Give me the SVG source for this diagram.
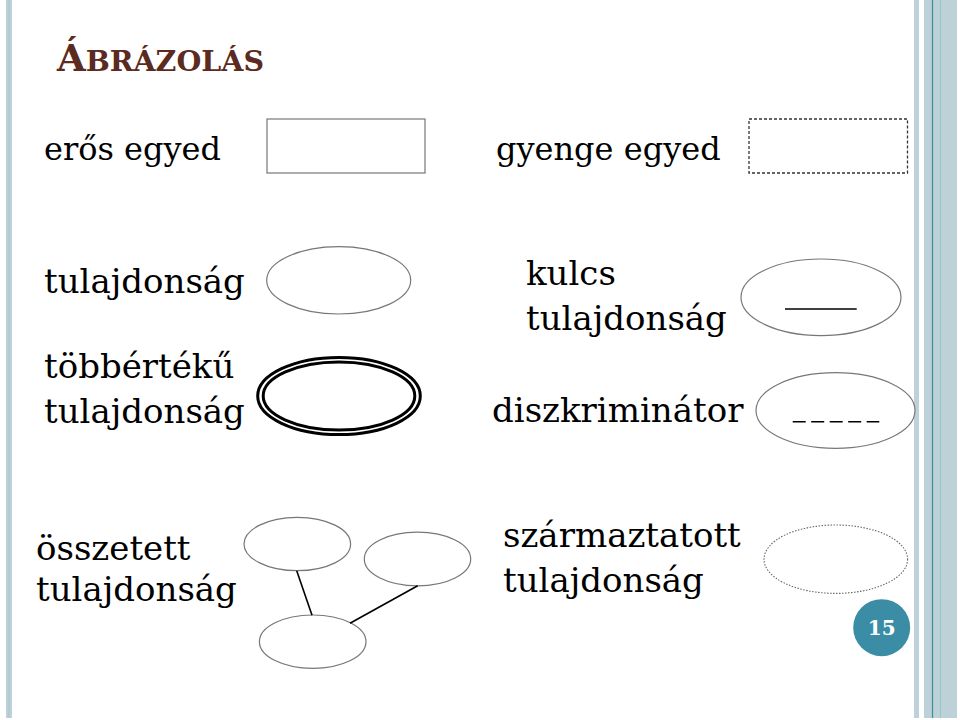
<svg xmlns="http://www.w3.org/2000/svg" width="960" height="720" viewBox="0 0 960 720">
<style>
.t{font-family:"DejaVu Serif","Liberation Serif",serif;font-size:34px;fill:#000}
.t2{font-family:"DejaVu Serif","Liberation Serif",serif;font-size:32px;fill:#000}
.b{font-family:"DejaVu Serif","Liberation Serif",serif;font-weight:bold}
.sh{fill:#fff;stroke:#777;stroke-width:1.2}
.conn{stroke:#000;stroke-width:1.6;fill:none}
.strip{fill:#bdd1d8}
</style>
<rect width="960" height="720" fill="#fff"/>
<g id="decor">
<rect class="strip" x="6" y="0" width="6" height="718"/>
<line x1="9" y1="0" x2="9" y2="718" stroke="#a9c4cc" stroke-width="1"/>
<rect class="strip" x="914" y="0" width="5" height="718"/>
<rect class="strip" x="924" y="0" width="33" height="718"/>
<line x1="932.5" y1="0" x2="932.5" y2="718" stroke="#3f8f97" stroke-width="1.2"/>
<line x1="940.5" y1="0" x2="940.5" y2="718" stroke="#9cc3c8" stroke-width="1"/>
</g>
<g id="title">
<text class="b" x="57" y="71" fill="#5b2a20"><tspan font-size="37">Á</tspan><tspan font-size="28.5">BRÁZOLÁS</tspan></text>
</g>
<g id="eros-egyed">
<text class="t2" x="44" y="160">erős egyed</text>
<rect class="sh" x="267" y="119" width="158" height="54" stroke="#555"/>
</g>
<g id="gyenge-egyed">
<text class="t2" x="496" y="160">gyenge egyed</text>
<rect x="749" y="119" width="158.5" height="54" fill="#fff" stroke="#333" stroke-width="1.3" stroke-dasharray="3 2"/>
</g>
<g id="tulajdonsag">
<text class="t" x="44" y="293">tulajdonság</text>
<ellipse class="sh" cx="338.7" cy="280.3" rx="72" ry="33.7"/>
</g>
<g id="tobberteku">
<text class="t" x="44" y="378">többértékű</text>
<text class="t" x="44" y="423">tulajdonság</text>
<ellipse cx="339" cy="396" rx="81.3" ry="38.6" fill="#fff" stroke="#000" stroke-width="3"/>
<ellipse cx="339" cy="396" rx="75.8" ry="34" fill="#fff" stroke="#000" stroke-width="3"/>
</g>
<g id="kulcs">
<text class="t" x="526" y="285">kulcs</text>
<text class="t" x="526" y="330">tulajdonság</text>
<ellipse class="sh" cx="821" cy="297.3" rx="80" ry="38.3"/>
<line x1="785" y1="309" x2="856.7" y2="309" stroke="#000" stroke-width="1.6"/>
</g>
<g id="diszkriminator">
<text class="t" x="492" y="421.7">diszkriminátor</text>
<ellipse class="sh" cx="835.5" cy="410.5" rx="79.5" ry="37.8"/>
<line x1="792.7" y1="421.7" x2="879.3" y2="421.7" stroke="#000" stroke-width="1.6" stroke-dasharray="13 5.5"/>
</g>
<g id="osszetett">
<text class="t" x="36" y="559.5">összetett</text>
<text class="t" x="36" y="601">tulajdonság</text>
<ellipse id="oA" class="sh" cx="297.3" cy="544" rx="53.3" ry="26.7"/>
<ellipse id="oB" class="sh" cx="417.5" cy="559" rx="53.2" ry="26.8"/>
<ellipse id="oC" class="sh" cx="312.7" cy="641.7" rx="53.3" ry="26.7"/>
</g>
<g id="connectors">
<line class="conn" x1="296.7" y1="570.7" x2="312" y2="615.2"/>
<line class="conn" x1="417.7" y1="585.7" x2="350" y2="623.3"/>
</g>
<g id="szarmaztatott">
<text class="t" x="503" y="546.7">származtatott</text>
<text class="t" x="503" y="591.7">tulajdonság</text>
<ellipse cx="835.8" cy="559.2" rx="71.8" ry="34.2" fill="#fff" stroke="#666" stroke-width="1.1" stroke-dasharray="1.5 1.5"/>
</g>
<g id="page-number">
<circle cx="881.7" cy="627.7" r="28.5" fill="#3a8da5"/>
<text class="b" x="881.7" y="635" text-anchor="middle" font-size="20" fill="#fff">15</text>
</g>
</svg>
